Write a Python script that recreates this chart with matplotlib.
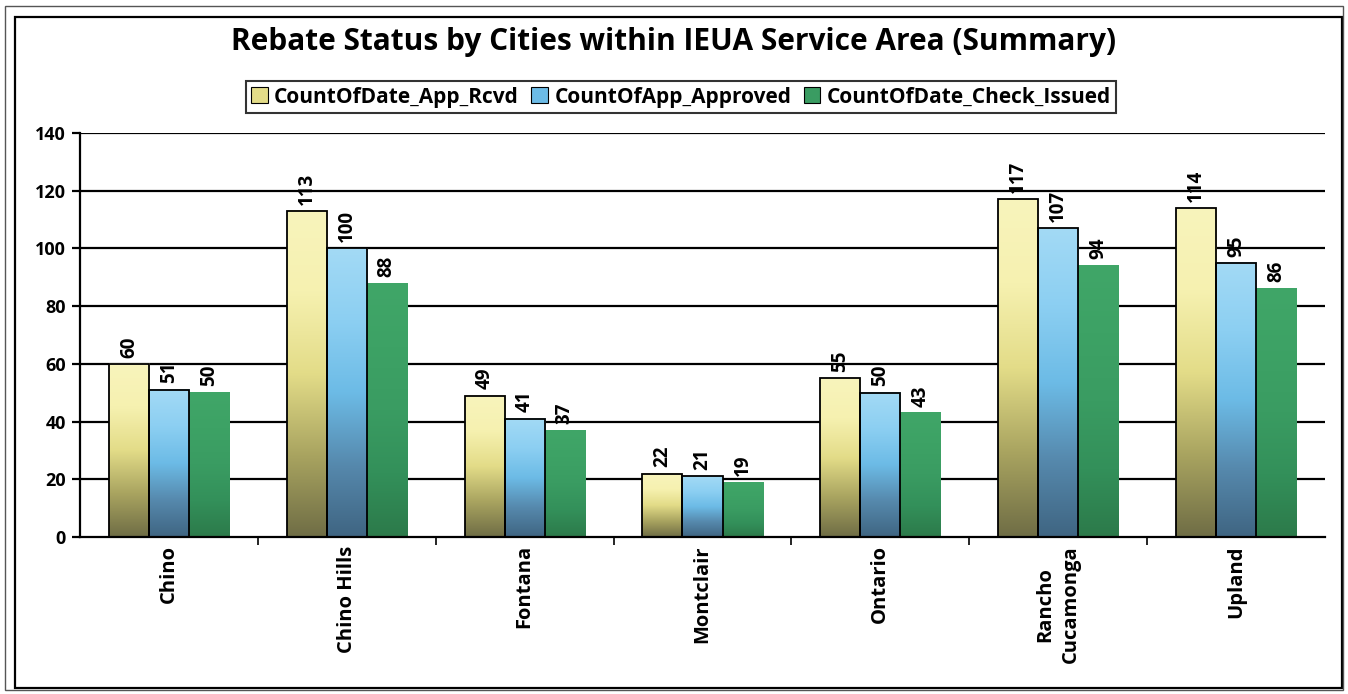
import numpy as np
import matplotlib.pyplot as plt
from matplotlib.patches import Rectangle
from matplotlib.colors import LinearSegmentedColormap

# rebate counts per city
cities = ["Chino", "Chino Hills", "Fontana", "Montclair", "Ontario", "Rancho\nCucamonga", "Upland"]
app_rcvd = [60, 113, 49, 22, 55, 117, 114]
app_approved = [51, 100, 41, 21, 50, 107, 95]
check_issued = [50, 88, 37, 19, 43, 94, 86]
series_names = ["CountOfDate_App_Rcvd", "CountOfApp_Approved", "CountOfDate_Check_Issued"]

# gradient stops, bottom -> top
grads = [
    ["#6f6d45", "#a9a460", "#e3dc88", "#f6f1b0", "#f8f4bc"],
    ["#3f6582", "#5689ad", "#6cbbe6", "#8ccff2", "#a3daf5"],
    ["#2c7a4a", "#33905a", "#3a9c62", "#3da265", "#40a668"],
]
edge = [True, True, False]

plt.rcParams['font.family'] = ['Open Sans', 'DejaVu Sans']

fig = plt.figure(figsize=(13.48, 6.94), dpi=100)
ax = fig.add_axes([80/1348, 1-537/694, 1245/1348, 404/694])

x = np.arange(len(cities))
w = 0.225
data = [app_rcvd, app_approved, check_issued]

for yv in range(20, 141, 20):
    ax.axhline(yv, color="black", lw=1.6, zorder=1)

for i, vals in enumerate(data):
    cmap = LinearSegmentedColormap.from_list("g%d" % i, grads[i])
    grad = np.linspace(1, 0, 256).reshape(-1, 1)
    for j, v in enumerate(vals):
        x0 = x[j] + (i - 1) * w - w / 2
        ax.imshow(grad, cmap=cmap, extent=[x0, x0 + w, 0, v], aspect="auto",
                  zorder=2, interpolation="bilinear")
        if edge[i]:
            ax.add_patch(Rectangle((x0, 0), w, v, fill=False, ec="black", lw=1.3, zorder=3))
        ax.text(x0 + w / 2, v + 2.2, str(v), rotation=90, ha="center", va="bottom",
                fontsize=13.5, fontweight="bold", zorder=4)

ax.set_xlim(-0.5, len(cities) - 0.5)
ax.set_ylim(0, 140)
ax.set_yticks(range(0, 141, 20))
ax.tick_params(axis="y", labelsize=13, width=1.6, length=6, pad=4)
for t in ax.get_yticklabels():
    t.set_fontweight("bold")

ax.set_xticks(x)
ax.set_xticklabels(cities, rotation=90, fontsize=14.5, fontweight="bold", va="top",
                   multialignment="center", linespacing=1.35)
ax.tick_params(axis="x", length=0, pad=6)
ax.set_xticks(np.arange(0.5, len(cities) - 0.5, 1), minor=True)
ax.tick_params(axis="x", which="minor", length=6, width=1.2, direction="out")

for s in ["top", "right"]:
    ax.spines[s].set_visible(False)
ax.spines["left"].set_linewidth(1.6)
ax.spines["bottom"].set_linewidth(1.6)

# legend with small square markers
handles = [Rectangle((0, 0), 1, 1, fc=grads[i][2], ec="black", lw=0.8) for i in range(3)]
leg = fig.legend(handles, series_names, loc="center", bbox_to_anchor=(681/1348, 1-97/694),
                 ncol=3, frameon=True, fancybox=False, edgecolor="black",
                 prop={"weight": "bold", "size": 15}, handlelength=0.8, handleheight=0.8,
                 handletextpad=0.3, columnspacing=0.6, borderpad=0.25)
leg.get_frame().set_linewidth(1.5)

fig.text(674/1348, 1-42/694, "Rebate Status by Cities within IEUA Service Area (Summary)",
         ha="center", va="center", fontsize=21.5, fontweight="bold")

# chart border
fig.patches.append(Rectangle((15/1348, 1-688/694), 1327/1348, 671/694, transform=fig.transFigure,
                             fill=False, ec="black", lw=1.6))
fig.patches.append(Rectangle((5/1348, 1-690/694), 1338/1348, 684/694, transform=fig.transFigure,
                             fill=False, ec="#555555", lw=1.0))

fig.savefig("out.png", dpi=100)
